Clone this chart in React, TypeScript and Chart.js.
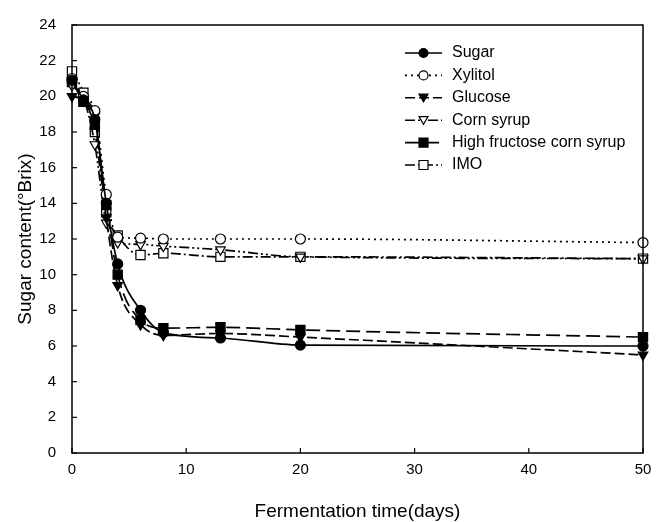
import React, { useEffect, useRef } from "react";
import { Chart, registerables } from "chart.js";

Chart.register(...registerables);

const days = [0, 1, 2, 3, 4, 6, 8, 13, 20, 50];
const seriesLabels = ["Sugar", "Xylitol", "Glucose", "Corn syrup", "High fructose corn syrup", "IMO"];
const sugar = [20.9, 19.8, 18.7, 14.0, 10.6, 8.0, 6.75, 6.45, 6.05, 6.0];
const xylitol = [21.0, 20.0, 19.2, 14.5, 12.1, 12.05, 12.0, 12.0, 12.0, 11.8];
const glucose = [20.0, 19.8, 18.9, 13.2, 9.4, 7.2, 6.6, 6.7, 6.5, 5.5];
const cornSyrup = [20.6, 19.9, 17.3, 12.9, 11.8, 11.7, 11.6, 11.4, 11.0, 10.9];
const hfcs = [20.8, 19.7, 18.4, 13.9, 10.0, 7.45, 7.0, 7.05, 6.9, 6.5];
const imo = [21.4, 20.2, 18.0, 13.5, 12.2, 11.1, 11.2, 11.0, 11.0, 10.9];
const yTicks = [0, 2, 4, 6, 8, 10, 12, 14, 16, 18, 20, 22, 24];
const xTicks = [0, 10, 20, 30, 40, 50];

const FONT = "'Liberation Sans', Arial, Helvetica, sans-serif";

const seriesValues = [sugar, xylitol, glucose, cornSyrup, hfcs, imo];
const markerStyles = ["circle", "circle", "triangle", "triangle", "rect", "rect"];
const markerRot = [0, 0, 180, 180, 0, 0];
const markerRadius = [5, 5, 5.5, 5.5, 6.5, 6.5];
const markerFilled = [true, false, true, false, true, false];
const dashes: number[][] = [[], [2, 4], [10, 4], [10, 3, 2, 3, 2, 3], [14, 6], [10, 3, 2, 3]];

const framePlugin = {
  id: "frameTicks",
  afterDraw(chart: any) {
    const { ctx, chartArea, scales } = chart;
    const { left, right, top, bottom } = chartArea;
    ctx.save();
    ctx.strokeStyle = "#000";
    ctx.lineWidth = 1.5;
    ctx.setLineDash([]);
    ctx.strokeRect(left, top, right - left, bottom - top);
    ctx.lineWidth = 1.2;
    scales.y.ticks.forEach((t: any) => {
      const py = scales.y.getPixelForValue(t.value);
      ctx.beginPath();
      ctx.moveTo(left, py);
      ctx.lineTo(left + 5, py);
      ctx.stroke();
    });
    scales.x.ticks.forEach((t: any) => {
      const px = scales.x.getPixelForValue(t.value);
      ctx.beginPath();
      ctx.moveTo(px, bottom);
      ctx.lineTo(px, bottom - 5);
      ctx.stroke();
    });
    ctx.restore();
  },
};

const legendPlugin = {
  id: "innerLegend",
  afterDraw(chart: any) {
    const { ctx } = chart;
    const x0 = 405;
    const x1 = 442;
    const tx = 452;
    const y0 = 53;
    const dy = 22.4;
    ctx.save();
    chart.data.datasets.forEach((ds: any, i: number) => {
      const yy = y0 + i * dy;
      ctx.strokeStyle = "#000";
      ctx.lineWidth = 1.6;
      ctx.setLineDash(ds.borderDash || []);
      ctx.beginPath();
      ctx.moveTo(x0, yy);
      ctx.lineTo(x1, yy);
      ctx.stroke();
      ctx.setLineDash([]);
      ctx.fillStyle = ds.pointBackgroundColor;
      ctx.strokeStyle = "#000";
      ctx.lineWidth = 1.2;
      const cx = (x0 + x1) / 2;
      const r = 4.5;
      ctx.beginPath();
      if (ds.pointStyle === "circle") {
        ctx.arc(cx, yy, r, 0, Math.PI * 2);
      } else if (ds.pointStyle === "rect") {
        ctx.rect(cx - r, yy - r, 2 * r, 2 * r);
      } else {
        ctx.moveTo(cx - r, yy - r * 0.8);
        ctx.lineTo(cx + r, yy - r * 0.8);
        ctx.lineTo(cx, yy + r * 0.9);
        ctx.closePath();
      }
      ctx.fill();
      ctx.stroke();
      ctx.fillStyle = "#000";
      ctx.font = "16px " + FONT;
      ctx.textBaseline = "middle";
      ctx.textAlign = "left";
      ctx.fillText(ds.label, tx, yy);
    });
    ctx.restore();
  },
};

export default function App() {
  const ref = useRef<HTMLCanvasElement | null>(null);
  useEffect(() => {
    document.body.style.margin = "0";
    if (!ref.current) return;
    const datasets = seriesLabels.map((label, i) => ({
      label,
      data: days.map((d, j) => ({ x: d, y: seriesValues[i][j] })),
      borderColor: "#000",
      borderWidth: 1.7,
      borderDash: dashes[i],
      pointStyle: markerStyles[i],
      rotation: markerRot[i],
      pointRadius: markerRadius[i],
      pointBackgroundColor: markerFilled[i] ? "#000" : "#fff",
      pointBorderColor: "#000",
      pointBorderWidth: 1.2,
      cubicInterpolationMode: "monotone" as const,
      fill: false,
      clip: false as any,
    }));
    const chart = new Chart(ref.current, {
      type: "line",
      data: { datasets },
      options: {
        animation: false,
        responsive: false,
        layout: { padding: { left: 0, top: 15, right: 24, bottom: 0 } },
        plugins: { legend: { display: false }, tooltip: { enabled: false } },
        scales: {
          x: {
            type: "linear",
            min: 0,
            max: 50,
            afterBuildTicks: (s: any) => {
              s.ticks = xTicks.map((v) => ({ value: v }));
            },
            afterFit: (s: any) => {
              s.height = 69;
            },
            grid: { display: false, drawTicks: false },
            border: { display: false },
            ticks: { color: "#000", font: { family: FONT, size: 15 }, padding: 8, maxRotation: 0 },
            title: {
              display: true,
              text: "Fermentation time(days)",
              color: "#000",
              font: { family: FONT, size: 19, lineHeight: 1.05 },
              padding: { top: 0, bottom: 0 },
            },
          },
          y: {
            type: "linear",
            min: 0,
            max: 24,
            afterBuildTicks: (s: any) => {
              s.ticks = yTicks.map((v) => ({ value: v }));
            },
            afterFit: (s: any) => {
              s.width = 72;
            },
            grid: { display: false, drawTicks: false },
            border: { display: false },
            ticks: { color: "#000", font: { family: FONT, size: 15 }, padding: 16 },
            title: {
              display: true,
              text: "Sugar content(°Brix)",
              color: "#000",
              font: { family: FONT, size: 19, lineHeight: 1.1 },
              padding: { top: 15, bottom: 0 },
            },
          },
        },
      },
      plugins: [framePlugin, legendPlugin],
    });
    return () => chart.destroy();
  }, []);
  return (
    <div style={{ width: 667, height: 522, background: "#fff" }}>
      <canvas ref={ref} width={667} height={522} style={{ display: "block" }} />
    </div>
  );
}
